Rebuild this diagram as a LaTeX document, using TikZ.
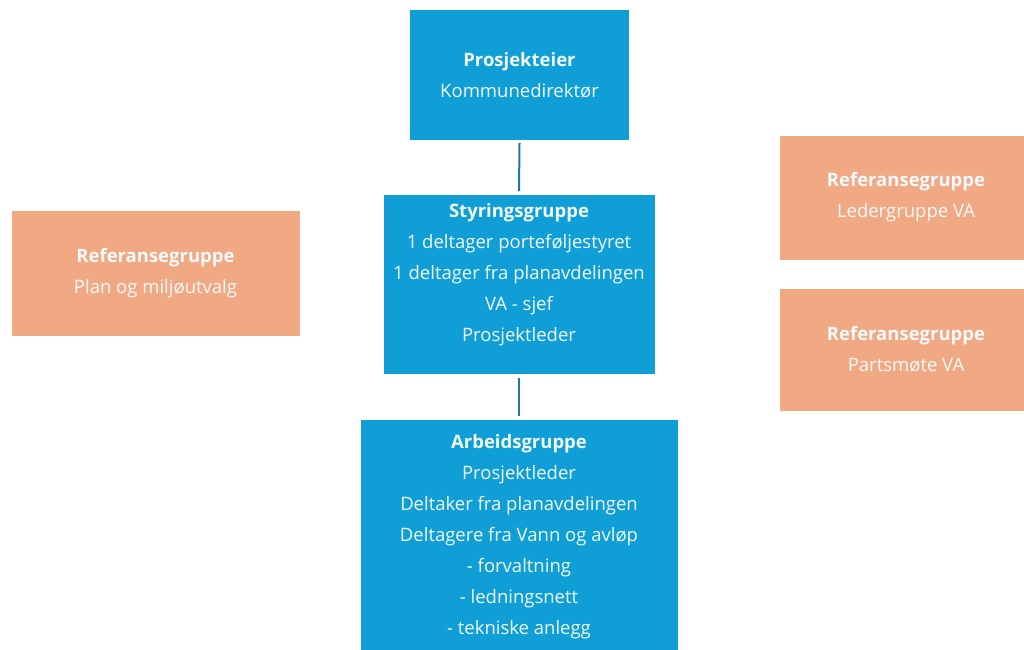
\documentclass[tikz,border=0pt]{standalone}
\usepackage{fontspec}
\setmainfont{Open Sans}
\usetikzlibrary{positioning}

\definecolor{boxblue}{HTML}{0F9ED5}
\definecolor{reforange}{HTML}{F1A983}
\definecolor{linkblue}{HTML}{1A78A8}

\tikzset{
    orgbox/.style={fill=boxblue, draw=white, line width=0.8pt, inner sep=0pt},
    refbox/.style={fill=reforange, draw=white, line width=0.8pt, inner sep=0pt},
    boxtext/.style={text=white!94!boxblue, align=center, inner sep=0pt,
        font=\fontsize{18.5}{31}\selectfont},
    link/.style={draw=linkblue, line width=2pt}
}

\begin{document}
\begin{tikzpicture}[x=1pt, y=-1pt]
        \useasboundingbox (0,0) rectangle (1024,649);

        % main chain
        \node[orgbox, minimum width=220pt, minimum height=131pt] (eier) at (519.5,75) {};
        \node[boxtext] (eiertxt) at (eier.center) {\textbf{Prosjekteier}\\Kommunedirektør};

        \node[orgbox, minimum width=272pt, minimum height=180pt] (styr) at (519,284.5) {};
        \node[boxtext, anchor=north] (styrtxt) at ([yshift=-9pt]styr.north) {\textbf{Styringsgruppe}\\1 deltager porteføljestyret\\1 deltager fra planavdelingen\\VA - sjef\\Prosjektleder};

        \node[orgbox, minimum width=318pt, minimum height=250pt, anchor=north] (arb) at (519,419) {};
        \node[boxtext, anchor=north] (arbtxt) at ([yshift=-15pt]arb.north) {\textbf{Arbeidsgruppe}\\Prosjektleder\\Deltaker fra planavdelingen\\Deltagere fra Vann og avløp\\- forvaltning\\- ledningsnett\\- tekniske anlegg};

        \draw[link] ([yshift=-2pt]eier.south) -- ([yshift=3pt]styr.north);
        \draw[link] ([yshift=-3pt]styr.south) -- ([yshift=3pt]arb.north);

        % reference groups
        \node[refbox, minimum width=289pt, minimum height=126pt] (refplan) at (155.5,273.5) {};
        \node[boxtext] (refplantxt) at (refplan.center) {\textbf{Referansegruppe}\\Plan og miljøutvalg};

        \node[refbox, minimum width=250pt, minimum height=125pt, anchor=north west] (refleder) at (779,135) {};
        \node[boxtext] (reflederttxt) at (906,197) {\textbf{Referansegruppe}\\Ledergruppe VA};

        \node[refbox, minimum width=250pt, minimum height=123pt, anchor=north west] (refparts) at (779,288) {};
        \node[boxtext] (refpartstxt) at (906,349) {\textbf{Referansegruppe}\\Partsmøte VA};
\end{tikzpicture}
\end{document}
